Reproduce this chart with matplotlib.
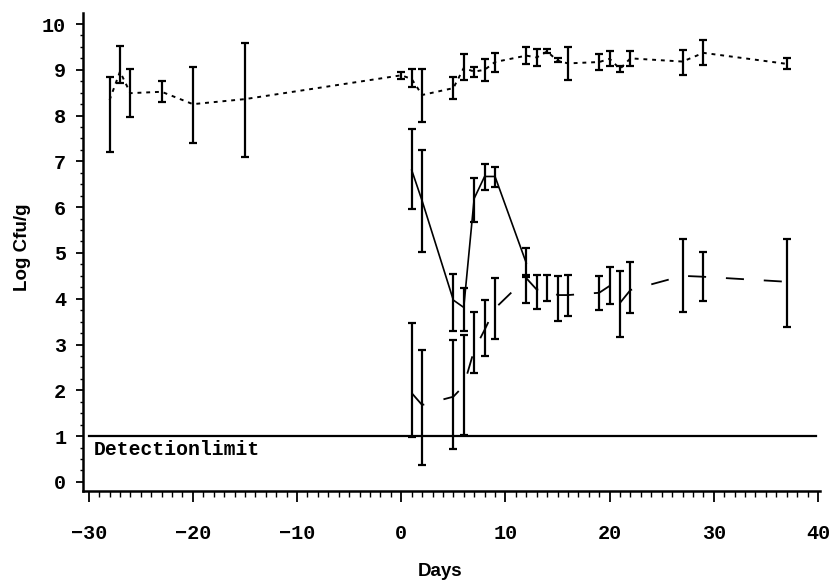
import matplotlib
matplotlib.use("Agg")
import matplotlib.pyplot as plt
from matplotlib.ticker import MultipleLocator

# upper group, dotted line
days_a = [-28, -27, -26, -23, -20, -15, 0, 1, 2, 5, 6, 7, 8, 9, 12, 13, 14, 15, 16,
          19, 20, 21, 22, 27, 29, 37]
mean_a = [8.34, 8.96, 8.49, 8.52, 8.25, 8.36, 8.88, 8.80, 8.45, 8.60, 9.04, 8.96, 9.00,
          9.17, 9.31, 9.27, 9.40, 9.20, 9.14, 9.17, 9.24, 9.02, 9.25, 9.18, 9.37, 9.13]
low_a = [7.21, 8.71, 7.98, 8.29, 7.40, 7.10, 8.79, 8.62, 7.87, 8.36, 8.78, 8.85, 8.76,
         8.96, 9.13, 9.08, 9.36, 9.18, 8.78, 9.00, 9.09, 8.96, 9.09, 8.89, 9.10, 9.01]
high_a = [8.84, 9.53, 9.01, 8.76, 9.07, 9.58, 8.96, 9.02, 9.01, 8.85, 9.34, 9.07, 9.23,
          9.37, 9.49, 9.45, 9.45, 9.25, 9.50, 9.34, 9.40, 9.09, 9.41, 9.43, 9.65, 9.25]

# middle group, solid line
days_b = [1, 2, 5, 6, 7, 8, 9, 12]
mean_b = [6.81, 6.14, 3.97, 3.81, 6.19, 6.67, 6.67, 4.78]
low_b = [5.95, 5.01, 3.30, 3.30, 5.68, 6.38, 6.45, 4.48]
high_b = [7.70, 7.25, 4.54, 4.23, 6.64, 6.94, 6.87, 5.10]

# lower group, long dashes
days_c = [1, 2, 5, 6, 7, 8, 9, 12, 13, 14, 15, 16, 19, 20, 21, 22, 27, 29, 37]
mean_c = [1.94, 1.68, 1.86, 2.10, 2.88, 3.32, 3.79, 4.45, 4.20, 4.23, 4.08, 4.08, 4.13,
          4.28, 3.91, 4.19, 4.50, 4.48, 4.37]
low_c = [0.99, 0.37, 0.71, 1.03, 2.37, 2.74, 3.12, 3.90, 3.77, 3.94, 3.52, 3.63, 3.76,
         3.89, 3.16, 3.68, 3.70, 3.95, 3.39]
high_c = [3.47, 2.88, 3.10, 3.21, 3.72, 3.97, 4.45, 4.52, 4.52, 4.52, 4.50, 4.52, 4.50,
          4.69, 4.61, 4.81, 5.31, 5.03, 5.30]

detection_limit = 1.0

mono = "Liberation Mono"
sans = "Liberation Sans"

fig = plt.figure(figsize=(8.3, 5.87), dpi=100)
ax = fig.add_axes([0.1, 0.1635, 0.888, 0.8143])


def draw(days, mean, low, high, ls, lw):
    err = [[m - l for m, l in zip(mean, low)], [h - m for m, h in zip(mean, high)]]
    ax.errorbar(days, mean, yerr=err, color="black", linestyle=ls, linewidth=lw,
                elinewidth=1.6, capsize=3, capthick=1.6)


draw(days_a, mean_a, low_a, high_a, (0, (2, 2.5)), 1.4)
draw(days_b, mean_b, low_b, high_b, "-", 1.2)
draw(days_c, mean_c, low_c, high_c, (0, (10, 11)), 1.3)

ax.axhline(detection_limit, xmin=0.008, xmax=0.995, color="black", linewidth=1.6)
ax.text(-29.5, 0.70, "Detectionlimit", fontfamily=mono, fontweight="bold",
        fontsize=14.2, ha="left", va="center")

ax.set_xlim(-30.55, 40.2)
ax.set_ylim(-0.2, 10.24)
ax.xaxis.set_major_locator(MultipleLocator(10))
ax.xaxis.set_minor_locator(MultipleLocator(1))
ax.yaxis.set_major_locator(MultipleLocator(1))
ax.yaxis.set_minor_locator(MultipleLocator(0.25))

for side in ["top", "right"]:
    ax.spines[side].set_visible(False)
for side in ["left", "bottom"]:
    ax.spines[side].set_linewidth(1.8)

ax.tick_params(axis="x", which="major", length=8, width=1.3, pad=16)
ax.tick_params(axis="x", which="minor", length=4.5, width=1.0)
ax.tick_params(axis="y", which="major", length=5, width=1.3, pad=7)
ax.tick_params(axis="y", which="minor", length=2.5, width=1.0)

for lab in ax.get_xticklabels() + ax.get_yticklabels():
    lab.set_fontfamily(mono)
    lab.set_fontweight("bold")
    lab.set_fontsize(14.5)

fig.text(23 / 830, 1 - 247 / 587, "Log Cfu/g", rotation=90, fontfamily=sans,
         fontweight="bold", fontsize=13.5, ha="center", va="center")
fig.text(440 / 830, 1 - 572 / 587, "Days", fontfamily=sans, fontweight="bold",
         fontsize=13.5, ha="center", va="center")

fig.savefig("out.png", dpi=100)
